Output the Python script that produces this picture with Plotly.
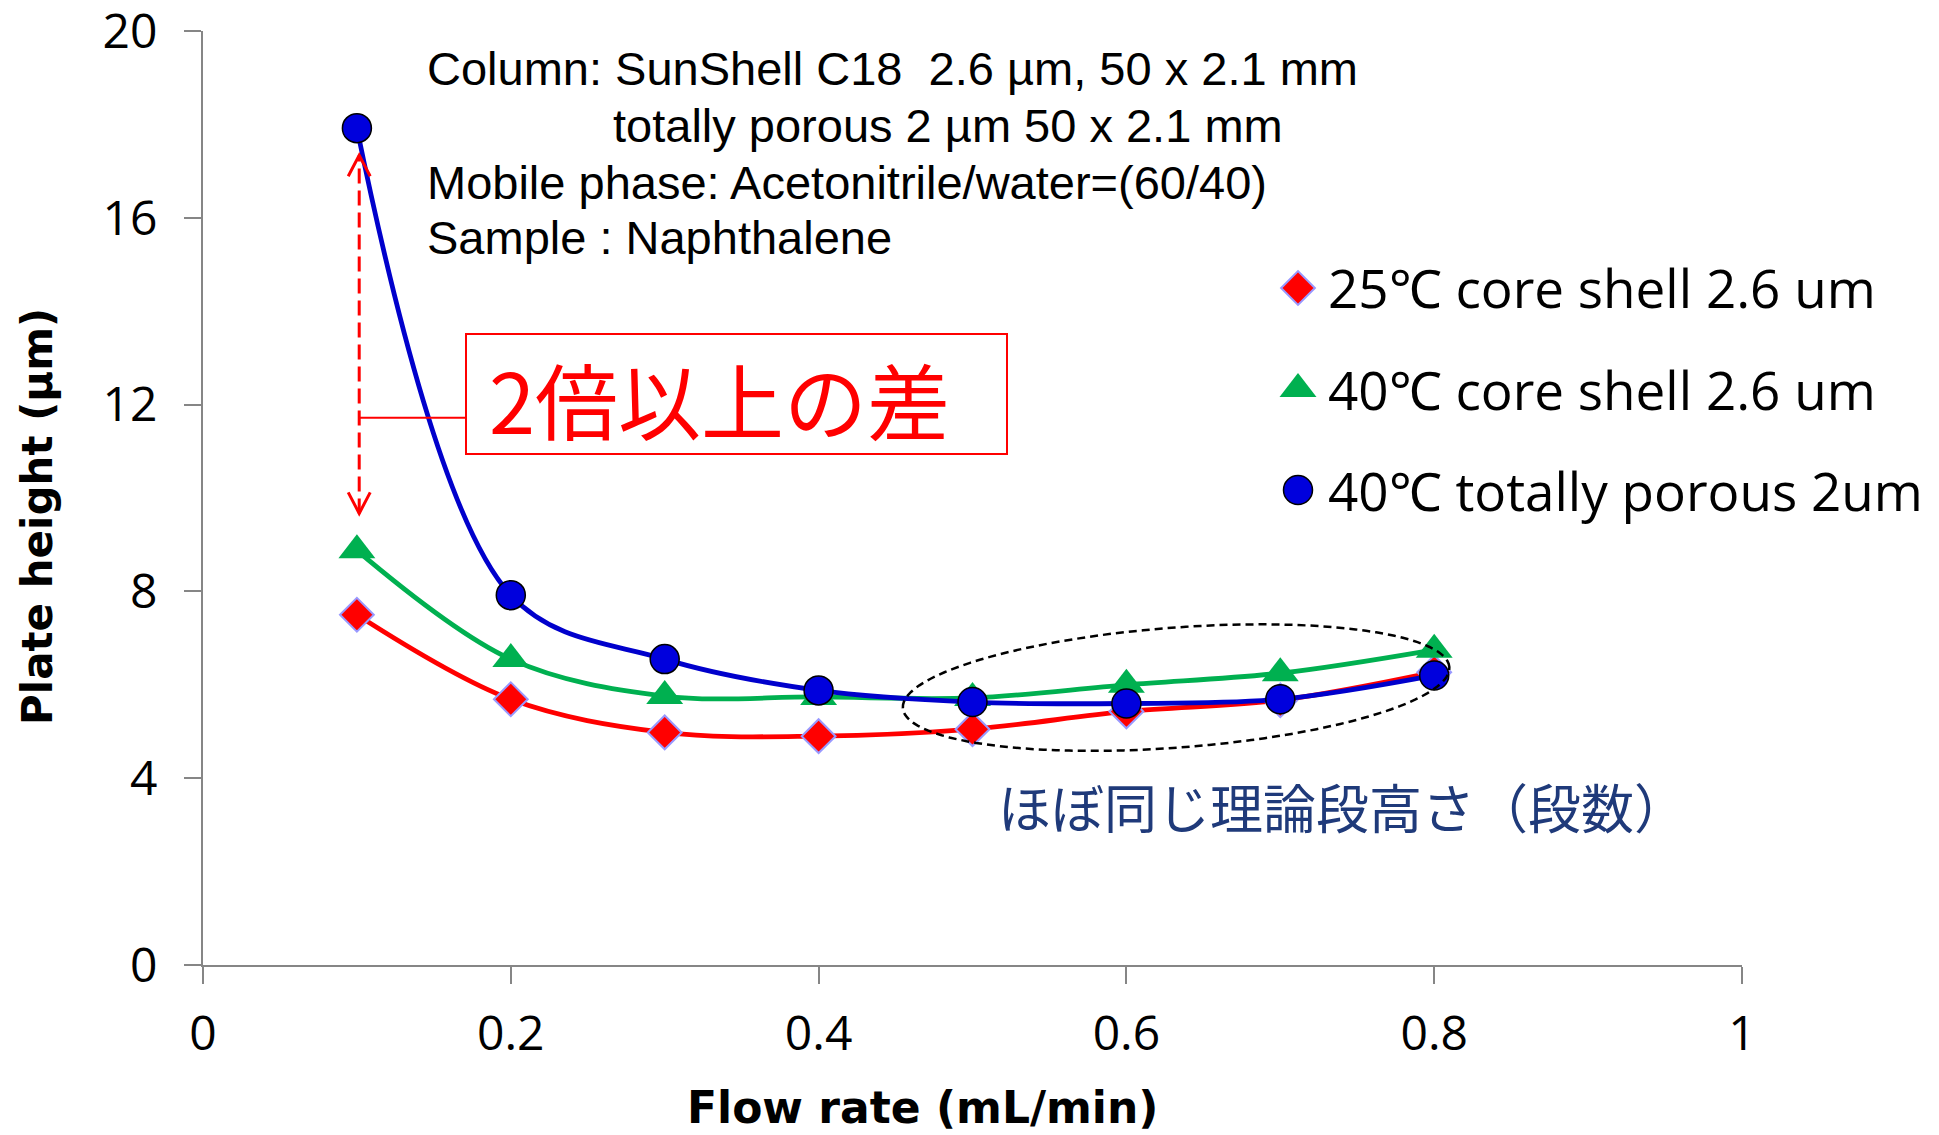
import numpy as np
import plotly.graph_objects as go

# ---------------- data ----------------
FLOW_RATE = [0.1, 0.2, 0.3, 0.4, 0.5, 0.6, 0.7, 0.8]
H_25C_CORE = [7.50, 5.69, 4.98, 4.90, 5.05, 5.43, 5.67, 6.27]
H_40C_CORE = [8.88, 6.55, 5.76, 5.74, 5.72, 6.00, 6.25, 6.75]
H_40C_POROUS = [17.92, 7.92, 6.55, 5.88, 5.63, 5.60, 5.69, 6.20]
SERIES_NAMES = ["25\u2103 core shell 2.6 um", "40\u2103 core shell 2.6 um", "40\u2103 totally porous 2um"]
X_TICKS = [0, 0.2, 0.4, 0.6, 0.8, 1]
X_TICK_LABELS = ["0", "0.2", "0.4", "0.6", "0.8", "1"]
Y_TICKS = [0, 4, 8, 12, 16, 20]
Y_TICK_LABELS = ["0", "4", "8", "12", "16", "20"]
NOTE_LINES = [
    "Column: SunShell C18  2.6 \u00b5m, 50 x 2.1 mm",
    "totally porous 2 \u00b5m 50 x 2.1 mm",
    "Mobile phase: Acetonitrile/water=(60/40)",
    "Sample : Naphthalene",
]
BOX_TEXT = "2倍以上の差"
BOTTOM_TEXT = "ほぼ同じ理論段高さ（段数）"
X_TITLE = "Flow rate (mL/min)"
Y_TITLE = "Plate height (\u00b5m)"

# ---------------- layout constants ----------------
W, H = 1939, 1135
ML, MR, MT, MB = 203, 197, 31, 170
PW = W - ML - MR
PH = H - MT - MB
X_RANGE = [0, 1.000001]
Y_RANGE = [0, 20.00002]


def px_x(px):
    return (px - ML) / PW


def px_y(py):
    return (H - MB - py) / PH


AXIS_GREY = "#868686"
RED, GREEN, BLUE = "#FF0000", "#00B050", "#0000CC"

STYLES = [
    dict(line=RED, marker=dict(symbol="diamond", size=26, color=RED, line=dict(color="#9999FF", width=2))),
    dict(line=GREEN, marker=dict(symbol="triangle-up", size=32, color=GREEN, line=dict(width=0))),
    dict(line=BLUE, marker=dict(symbol="circle", size=29, color="#0000DD", line=dict(color="black", width=1.5))),
]
SERIES = [H_25C_CORE, H_40C_CORE, H_40C_POROUS]

fig = go.Figure()
for name, ys, st in zip(SERIES_NAMES, SERIES, STYLES):
    fig.add_trace(go.Scatter(
        x=FLOW_RATE, y=ys, name=name, mode="lines+markers",
        line=dict(color=st["line"], width=4.8, shape="spline", smoothing=1.0),
        marker=st["marker"], showlegend=False, cliponaxis=False,
    ))

# manual legend (large markers like the original)
LEG_X = px_x(1298)
LEG_TEXT_X = px_x(1326)
LEG_Y_PX = [288, 389, 490]
for name, st, ypx in zip(SERIES_NAMES, STYLES, LEG_Y_PX):
    yd = px_y(ypx) * (Y_RANGE[1] - Y_RANGE[0])
    fig.add_trace(go.Scatter(x=[LEG_X], y=[yd], mode="markers", marker=st["marker"],
                             showlegend=False, hoverinfo="skip", cliponaxis=False))
    fig.add_annotation(x=LEG_TEXT_X, y=px_y(ypx), xref="paper", yref="paper",
                       text=name, showarrow=False, xanchor="left", yanchor="middle",
                       font=dict(family="Open Sans", size=53, color="black"))

# note block
NOTE_POS = [(425, 69), (611, 126), (425, 182), (425, 237)]
for txt, (xp, yp) in zip(NOTE_LINES, NOTE_POS):
    fig.add_annotation(x=px_x(xp), y=px_y(yp), xref="paper", yref="paper", text=txt,
                       showarrow=False, xanchor="left", yanchor="middle",
                       font=dict(family="Liberation Sans, Arial", size=47, color="black"))

# red box text
fig.add_annotation(x=px_x(487), y=px_y(398), xref="paper", yref="paper", text=BOX_TEXT,
                   showarrow=False, xanchor="left", yanchor="middle",
                   font=dict(family="Noto Sans CJK JP", size=83, color=RED))
# bottom Japanese text
fig.add_annotation(x=px_x(996), y=px_y(806), xref="paper", yref="paper", text=BOTTOM_TEXT,
                   showarrow=False, xanchor="left", yanchor="middle",
                   font=dict(family="Noto Sans CJK JP", size=53, color="#1F3A7A"))
# axis titles
fig.add_annotation(x=px_x(922), y=px_y(1107), xref="paper", yref="paper", text=X_TITLE,
                   showarrow=False, xanchor="center", yanchor="middle",
                   font=dict(family="DejaVu Sans", size=44, color="black", weight="bold"))
fig.add_annotation(x=px_x(37), y=px_y(517), xref="paper", yref="paper", text=Y_TITLE,
                   showarrow=False, xanchor="center", yanchor="middle", textangle=-90,
                   font=dict(family="DejaVu Sans", size=42, color="black", weight="bold"))

shapes = []
# red box
shapes.append(dict(type="rect", xref="paper", yref="paper",
                   x0=px_x(466), x1=px_x(1007), y0=px_y(454), y1=px_y(334),
                   line=dict(color=RED, width=2), fillcolor="rgba(0,0,0,0)"))
# dashed double arrow
ARROW_X = 0.1015
ARROW_TOP = 17.34
ARROW_BOTTOM = 9.67
LEADER_Y = 11.72
shapes.append(dict(type="line", xref="x", yref="y", x0=ARROW_X, x1=ARROW_X,
                   y0=ARROW_BOTTOM, y1=ARROW_TOP, line=dict(color=RED, width=3, dash="15px,7px")))
shapes.append(dict(type="path", xref="x", yref="y", xsizemode="pixel", ysizemode="pixel",
                   xanchor=ARROW_X, yanchor=ARROW_TOP, path="M -11,-21 L 0,0 L 11,-21",
                   line=dict(color=RED, width=3)))
shapes.append(dict(type="path", xref="x", yref="y", xsizemode="pixel", ysizemode="pixel",
                   xanchor=ARROW_X, yanchor=ARROW_BOTTOM, path="M -11,21 L 0,0 L 11,21",
                   line=dict(color=RED, width=3)))
# leader line to box
shapes.append(dict(type="line", xref="x", yref="y", x0=ARROW_X, x1=px_x(466),
                   y0=LEADER_Y, y1=LEADER_Y, line=dict(color=RED, width=2)))

# dashed tilted ellipse
EL_CX, EL_CY = 0.6323, 5.94
EL_A, EL_B, EL_ANG = 274, 60, np.deg2rad(4.3)
xpu = PW / (X_RANGE[1] - X_RANGE[0])
ypu = PH / (Y_RANGE[1] - Y_RANGE[0])
t = np.linspace(0, 2 * np.pi, 121)
ex = EL_CX + (EL_A * np.cos(t) * np.cos(EL_ANG) - EL_B * np.sin(t) * np.sin(EL_ANG)) / xpu
ey = EL_CY + (EL_A * np.cos(t) * np.sin(EL_ANG) + EL_B * np.sin(t) * np.cos(EL_ANG)) / ypu
path = "M " + " L ".join(f"{a:.5f},{b:.5f}" for a, b in zip(ex, ey)) + " Z"
shapes.append(dict(type="path", xref="x", yref="y", path=path,
                   line=dict(color="black", width=2.5, dash="8px,5px")))

fig.update_layout(
    width=W, height=H, margin=dict(l=ML, r=MR, t=MT, b=MB, autoexpand=False),
    plot_bgcolor="white", paper_bgcolor="white", showlegend=False,
    shapes=shapes,
    xaxis=dict(range=X_RANGE, tickvals=X_TICKS, ticktext=X_TICK_LABELS, showgrid=False,
               zeroline=False, showline=True, linecolor=AXIS_GREY, linewidth=2,
               ticks="outside", ticklen=17, tickwidth=2, tickcolor=AXIS_GREY, automargin=False,
               ticklabeloverflow="allow",
               tickfont=dict(family="Open Sans", size=48, color="black"), ticklabelstandoff=8),
    yaxis=dict(range=Y_RANGE, tickvals=Y_TICKS, ticktext=Y_TICK_LABELS, showgrid=False,
               zeroline=False, showline=True, linecolor=AXIS_GREY, linewidth=2,
               ticks="outside", ticklen=17, tickwidth=2, tickcolor=AXIS_GREY, automargin=False,
               ticklabeloverflow="allow",
               tickfont=dict(family="Open Sans", size=48, color="black"), ticklabelstandoff=17),
)

fig.write_html(
    "out.html",
    config={"displayModeBar": False},
    post_script="document.body.style.margin='0px';document.body.style.overflow='hidden';",
)
